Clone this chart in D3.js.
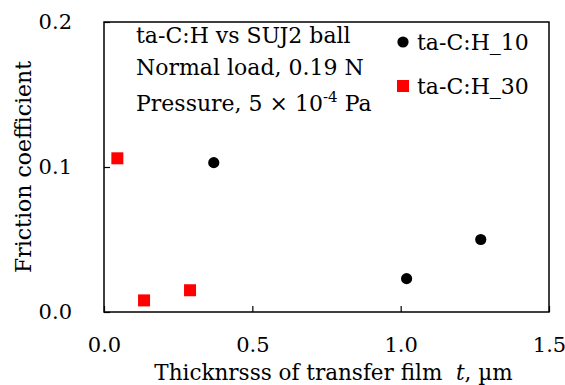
<!DOCTYPE html>
<html>
<head>
<meta charset="utf-8">
<script src="https://cdn.jsdelivr.net/npm/d3@7"></script>
<style>
  body { margin: 0; background: #fff; }
  .serif { font-family: "DejaVu Serif"; }
</style>
</head>
<body>
<svg width="565" height="385"></svg>
<script>

// Datos
let t_10 = [0.37, 1.02, 1.27]
let mu_10 = [0.103, 0.023, 0.050]
let t_30 = [0.045, 0.135, 0.29]
let mu_30 = [0.106, 0.008, 0.015]

let ticks_x = [0, 0.5, 1.0, 1.5]
let ticks_y = [0, 0.1, 0.2]

let series = [
  {nombre: 'ta-C:H_10', t: t_10, mu: mu_10, forma: 'circulo', color: '#000'},
  {nombre: 'ta-C:H_30', t: t_30, mu: mu_30, forma: 'cuadrado', color: '#ff0000'}
]

let notas = ['ta-C:H vs SUJ2 ball', 'Normal load, 0.19 N']


/* Lienzo */

let margen = {top: 22, right: 16, bottom: 73, left: 104}
let W = 565, H = 385
let ancho = W - margen.left - margen.right
let alto = H - margen.top - margen.bottom
let fs = 22

let svg = d3.select('svg')
let g = svg.append('g').attr('transform', `translate(${margen.left}, ${margen.top})`)

let x = d3.scaleLinear().domain([0, 1.5]).range([0, ancho])
let y = d3.scaleLinear().domain([0, 0.2]).range([alto, 0])

// la serif que si carga
let texto = (sel, tam = fs) => sel.attr('class', 'serif').style('font-size', tam + 'px')


/* Ejes */

let eje_x = g.append('g')
  .attr('transform', `translate(0, ${alto})`)
  .call(d3.axisBottom(x).tickValues(ticks_x).tickFormat(d3.format('.1f'))
    .tickSizeInner(-6).tickSizeOuter(0).tickPadding(25))

let eje_y = g.append('g')
  .call(d3.axisLeft(y).tickValues(ticks_y).tickFormat(d3.format('.1f'))
    .tickSizeInner(-6).tickSizeOuter(0).tickPadding(32))

for (let eje of [eje_x, eje_y]) {
  eje.attr('font-family', null).attr('font-size', null)
  eje.select('.domain').remove()
  eje.selectAll('line').attr('stroke', '#000').attr('stroke-width', 1.2)
  eje.selectAll('text').call(texto, 21)
}

// marco
g.append('rect')
  .attr('width', ancho).attr('height', alto)
  .attr('fill', 'none').attr('stroke', '#000').attr('stroke-width', 1.5)

// titulos
svg.append('text').call(texto, 21.5)
  .attr('x', margen.left + ancho / 2 + 7).attr('y', 380)
  .attr('text-anchor', 'middle')
  .call(t => {
    t.append('tspan').text('Thicknrsss of transfer film\u00a0 ')
    t.append('tspan').attr('font-style', 'italic').text('t')
    t.append('tspan').text(', \u00b5m')
  })

svg.append('text').call(texto)
  .attr('transform', `translate(31, ${margen.top + alto / 2}) rotate(-90)`)
  .attr('text-anchor', 'middle')
  .text('Friction coefficient')


/* Puntos */

let simbolo = (sel, forma, color) => {
  if (forma == 'circulo') {
    sel.append('circle').attr('r', 5.6).attr('fill', color)
  } else {
    sel.append('rect').attr('x', -6).attr('y', -6)
      .attr('width', 12).attr('height', 12).attr('fill', color)
  }
}

for (let s of series) {
  g.append('g').selectAll('g.punto')
    .data(d3.zip(s.t, s.mu))
    .enter().append('g')
      .attr('class', 'punto')
      .attr('transform', d => `translate(${x(d[0])}, ${y(d[1])})`)
      .each(function () { simbolo(d3.select(this), s.forma, s.color) })
}


/* Notas */

let ys_notas = [43, 75]
notas.forEach((n, i) => {
  svg.append('text').call(texto).attr('x', 136).attr('y', ys_notas[i]).text(n)
})

svg.append('text').call(texto).attr('x', 136).attr('y', 111)
  .call(t => {
    t.append('tspan').text('Pressure, 5 \u00d7 10')
    t.append('tspan').style('font-size', '15px').attr('dy', -9).text('-4')
    t.append('tspan').attr('dy', 9).text(' Pa')
  })


/* Leyenda */

let leyenda = svg.append('g')
series.forEach((s, i) => {
  let fila = leyenda.append('g').attr('transform', `translate(403, ${42 + i * 44})`)
  simbolo(fila, s.forma, s.color)
  fila.append('text').call(texto).attr('x', 14).attr('y', 8).text(s.nombre)
})

</script>
</body>
</html>
